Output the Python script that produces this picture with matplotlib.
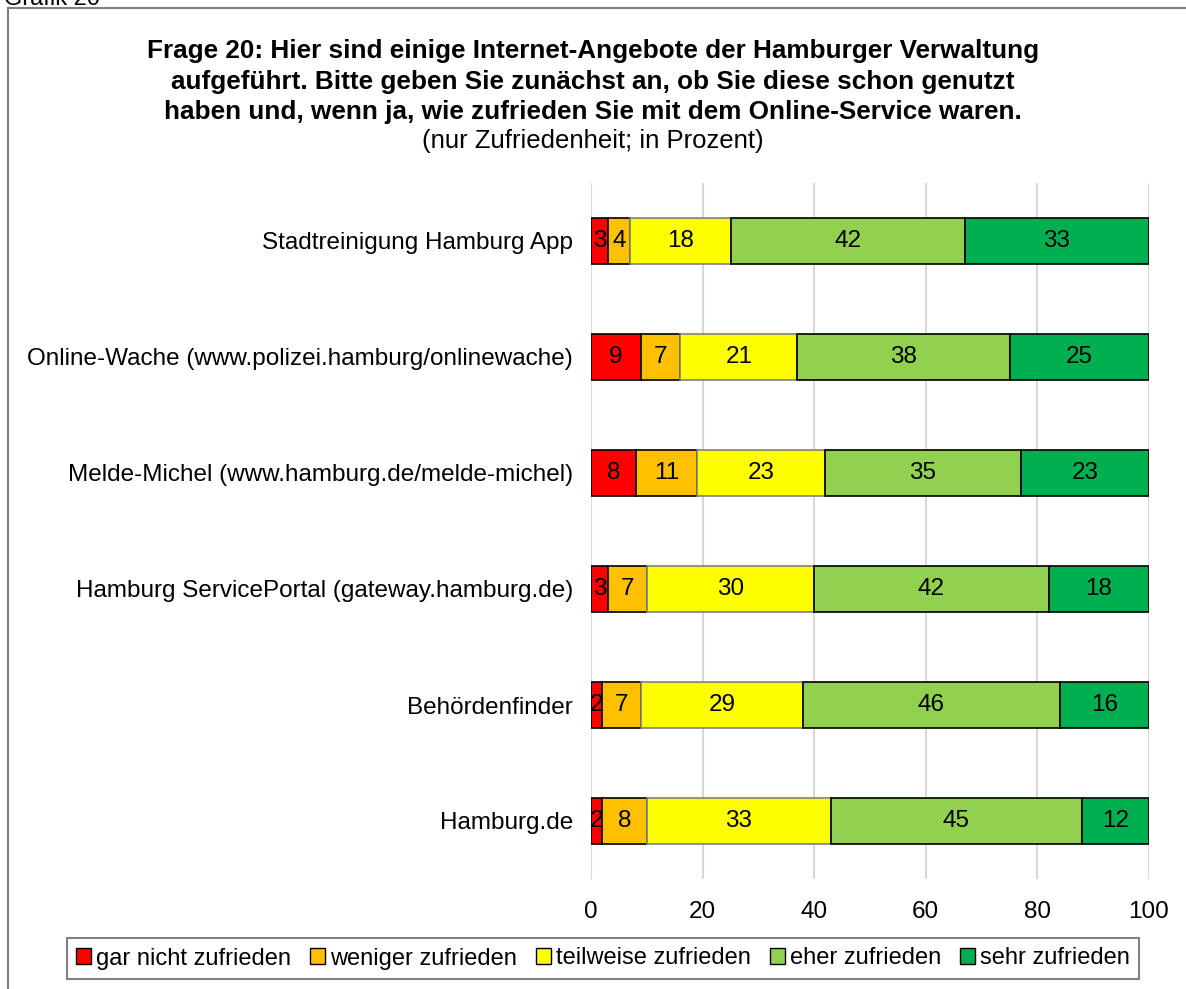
import numpy as np
import matplotlib
matplotlib.use('Agg')
from matplotlib import pyplot as plt
from matplotlib.patches import Rectangle

plt.rcParams['font.family'] = ['Liberation Sans', 'DejaVu Sans']

# Daten (von oben nach unten)
kategorien = ['Stadtreinigung Hamburg App',
              'Online-Wache (www.polizei.hamburg/onlinewache)',
              'Melde-Michel (www.hamburg.de/melde-michel)',
              'Hamburg ServicePortal (gateway.hamburg.de)',
              'Behördenfinder',
              'Hamburg.de']
gar_nicht = [3, 9, 8, 3, 2, 2]
weniger = [4, 7, 11, 7, 7, 8]
teilweise = [18, 21, 23, 30, 29, 33]
eher = [42, 38, 35, 42, 46, 45]
sehr = [33, 25, 23, 18, 16, 12]

serien = ['gar nicht zufrieden', 'weniger zufrieden', 'teilweise zufrieden',
          'eher zufrieden', 'sehr zufrieden']
farben = ['#FF0000', '#FFC000', '#FFFF00', '#92D050', '#00B050']
kanten = ['black', 'black', '#808080', 'black', 'black']

fig = plt.figure(figsize=(11.86, 9.89), dpi=100)
ax = fig.add_axes([591/1186, 1-879/989, 558/1186, 696/989])

y = np.arange(len(kategorien))[::-1]
links = np.zeros(len(kategorien))
for name, werte, f, k in zip(serien, [gar_nicht, weniger, teilweise, eher, sehr], farben, kanten):
    werte = np.array(werte)
    bars = ax.barh(y, werte, left=links, height=0.4, color=f, edgecolor=k,
                   linewidth=1.2, label=name, zorder=3)
    for b, w in zip(bars, werte):
        ax.text(b.get_x() + b.get_width()/2, b.get_y() + b.get_height()/2, str(w),
                ha='center', va='center', fontsize=17.5, zorder=4)
    links += werte

ax.set_xlim(0, 100)
ax.set_ylim(-0.5, len(kategorien) - 0.5)
ax.set_xticks([0, 20, 40, 60, 80, 100])
ax.set_yticks(y)
ax.set_yticklabels(kategorien)
ax.tick_params(axis='both', length=0, labelsize=17.5)
ax.tick_params(axis='y', pad=13)
ax.tick_params(axis='x', pad=16)
ax.grid(axis='x', color='#D9D9D9', linewidth=1.5, zorder=0)
for s in ax.spines.values():
    s.set_visible(False)

# Titel
titel = ['Frage 20: Hier sind einige Internet-Angebote der Hamburger Verwaltung',
         'aufgeführt. Bitte geben Sie zunächst an, ob Sie diese schon genutzt',
         'haben und, wenn ja, wie zufrieden Sie mit dem Online-Service waren.']
for zeile, ypix in zip(titel, [58, 89, 119]):
    fig.text(0.5, 1-ypix/989, zeile, ha='center', va='baseline', fontsize=18.8, fontweight='bold')
fig.text(0.5, 1-148/989, '(nur Zufriedenheit; in Prozent)',
         ha='center', va='baseline', fontsize=18.5)

# Rahmen und Ueberschrift oben links
fig.patches.append(Rectangle((8/1186, -0.05), 1.1, 1 - 8/989 + 0.05, transform=fig.transFigure,
                             fill=False, edgecolor='#808080', linewidth=1.5))
fig.text(0.003, 1 - 5/989, 'Grafik 20', ha='left', va='baseline', fontsize=17)

leg = fig.legend(loc='center', bbox_to_anchor=(603/1186, 1-958.5/989), ncol=5,
                 fontsize=17, handlelength=0.65, handleheight=0.65, handletextpad=0.2,
                 columnspacing=0.8, fancybox=False, edgecolor='#808080',
                 borderpad=0.4, framealpha=1)
leg.get_frame().set_linewidth(1.5)
for h in leg.legend_handles:
    h.set_edgecolor('black')
    h.set_linewidth(1.0)

fig.savefig('out.png', dpi=100)
